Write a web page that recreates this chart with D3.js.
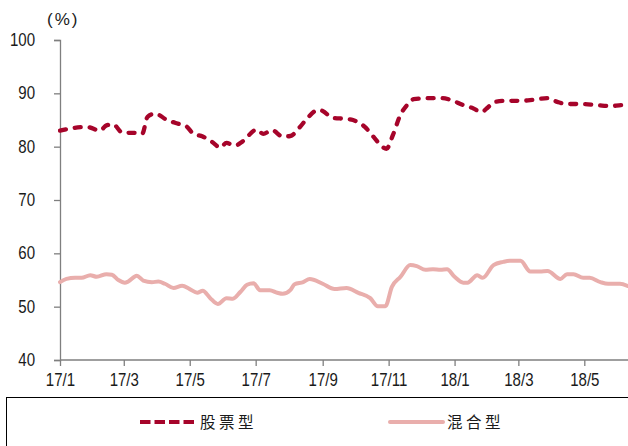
<!DOCTYPE html>
<html><head><meta charset="utf-8">
<script src="https://cdn.jsdelivr.net/npm/d3@7"></script>
<style>body{margin:0;background:#fff}svg{display:block}</style>
</head><body>
<svg id="c" width="628" height="446"></svg>
<script>
const seriesNames = ["股票型", "混合型"];
const stockDates = ["2017-01-01","2017-01-13","2017-01-26","2017-02-07","2017-02-13","2017-02-19","2017-02-28","2017-03-10","2017-03-18","2017-03-23","2017-03-30","2017-04-10","2017-04-22","2017-04-28","2017-05-04","2017-05-13","2017-05-23","2017-05-29","2017-06-04","2017-06-12","2017-06-19","2017-07-02","2017-07-08","2017-07-16","2017-07-26","2017-08-02","2017-08-11","2017-08-18","2017-08-28","2017-09-01","2017-09-10","2017-09-23","2017-09-29","2017-10-10","2017-10-19","2017-10-26","2017-10-30","2017-11-05","2017-11-12","2017-11-18","2017-11-24","2017-12-09","2017-12-21","2017-12-28","2018-01-09","2018-01-18","2018-01-26","2018-02-01","2018-02-07","2018-02-19","2018-03-03","2018-03-15","2018-03-28","2018-04-06","2018-04-15","2018-04-27","2018-05-13","2018-05-25","2018-06-05","2018-06-10"];
const stockValues = [83,83.5,83.7,83,84,84.2,82.6,82.6,82.4,85.6,86.2,85,84.2,83.8,82.5,81.9,80.7,79.8,80.7,80.2,81,83.2,82.4,83.1,81.9,82,83.7,85.4,86.9,86.7,85.4,85.2,85,83.7,81.6,80,79.6,82.2,86,87.8,88.9,89.1,89.1,88.8,87.8,87.2,86.5,87.4,88.4,88.6,88.6,88.8,89.1,88.4,88,88,87.8,87.6,87.8,87.5];
const mixedDates = ["2017-01-01","2017-01-07","2017-01-15","2017-01-21","2017-01-29","2017-02-04","2017-02-13","2017-02-18","2017-02-24","2017-03-02","2017-03-05","2017-03-13","2017-03-19","2017-03-27","2017-04-02","2017-04-08","2017-04-16","2017-04-24","2017-05-01","2017-05-08","2017-05-13","2017-05-20","2017-05-27","2017-06-04","2017-06-10","2017-06-17","2017-06-23","2017-06-29","2017-07-05","2017-07-14","2017-07-21","2017-07-26","2017-08-02","2017-08-06","2017-08-14","2017-08-20","2017-09-01","2017-09-12","2017-09-23","2017-10-04","2017-10-15","2017-10-22","2017-10-29","2017-11-04","2017-11-12","2017-11-21","2017-11-27","2017-12-05","2017-12-12","2017-12-19","2017-12-25","2018-01-01","2018-01-09","2018-01-13","2018-01-22","2018-01-27","2018-02-06","2018-02-15","2018-02-21","2018-03-03","2018-03-12","2018-03-21","2018-03-28","2018-04-09","2018-04-15","2018-04-21","2018-04-30","2018-05-06","2018-05-16","2018-05-23","2018-06-03","2018-06-10"];
const mixedValues = [54.6,55.2,55.4,55.4,55.9,55.6,56.1,56,55,54.5,54.7,55.8,54.9,54.6,54.7,54.3,53.5,53.9,53.3,52.6,53,51.6,50.5,51.6,51.5,52.8,54.1,54.4,53.1,53.1,52.6,52.4,53.1,54.2,54.6,55.2,54.3,53.3,53.5,52.6,51.6,50.1,50.1,53.7,55.6,57.8,57.6,56.9,57,56.9,57,55.6,54.5,54.5,55.9,55.4,57.8,58.4,58.6,58.6,56.6,56.6,56.7,55.2,56.1,56.1,55.4,55.4,54.6,54.3,54.3,53.9];
const xTickLabels = ["17/1","17/3","17/5","17/7","17/9","17/11","18/1","18/3","18/5"];
const yTicks = [40,50,60,70,80,90,100];
const yUnit = "(%)";

const parse = d3.timeParse("%Y-%m-%d");
const svg = d3.select("#c");
const x = d3.scaleTime().domain([parse("2017-01-01"), parse("2018-05-01")]).range([60, 584.3]);
const y = d3.scaleLinear().domain([40, 100]).range([360, 40]);

const font = "'Liberation Sans', Arial, sans-serif";
const sx = 0.86;

// y axis
const yAxis = svg.append("g").attr("transform", "translate(60,0)")
  .call(d3.axisLeft(y).tickValues(yTicks).tickSize(6));
yAxis.select(".domain").attr("stroke", "#7f7f7f").attr("stroke-width", 1.3);
yAxis.selectAll(".tick line").attr("stroke", "#7f7f7f").attr("stroke-width", 1.3);
yAxis.selectAll("text").attr("font-family", font).attr("font-size", 17.5).attr("fill", "#1a1a1a")
  .attr("transform", `scale(${sx},1)`).attr("x", -25 / sx);

// x axis
const xTickDates = xTickLabels.map(s => { const [yy, mm] = s.split("/"); return new Date(2000 + +yy, +mm - 1, 1); });
const xAxis = svg.append("g").attr("transform", "translate(0,360)")
  .call(d3.axisBottom(x).tickValues(xTickDates).tickFormat((d, i) => xTickLabels[i]).tickSize(6));
xAxis.select(".domain").attr("d", "M60,0H628").attr("stroke", "#7f7f7f").attr("stroke-width", 1.3);
xAxis.selectAll(".tick line").attr("stroke", "#7f7f7f").attr("stroke-width", 1.3);
xAxis.selectAll("text").attr("font-family", font).attr("font-size", 17.5).attr("fill", "#1a1a1a")
  .attr("transform", `scale(${sx},1)`).attr("y", 26).attr("dy", null);

svg.append("text").attr("x", 47).attr("y", 24.5).attr("font-family", font)
  .attr("font-size", 17).attr("letter-spacing", 2).attr("fill", "#1a1a1a").text(yUnit);

const line = d3.line().x(d => x(d[0])).y(d => y(d[1])).curve(d3.curveMonotoneX);
const stock = stockDates.map((d, i) => [parse(d), stockValues[i]]);
const mixed = mixedDates.map((d, i) => [parse(d), mixedValues[i]]);

svg.append("defs").append("clipPath").attr("id", "clip").append("rect")
  .attr("x", 58).attr("y", 0).attr("width", 580).attr("height", 360);

svg.append("path").datum(mixed).attr("d", line).attr("fill", "none")
  .attr("stroke", "#e9aeac").attr("stroke-width", 4).attr("stroke-linejoin", "round").attr("stroke-linecap", "round")
  .attr("clip-path", "url(#clip)");
svg.append("path").datum(stock).attr("d", line).attr("fill", "none")
  .attr("stroke", "#a6042a").attr("stroke-width", 4.3).attr("stroke-dasharray", "6,9").attr("stroke-linecap", "round")
  .attr("clip-path", "url(#clip)");

// legend
svg.append("rect").attr("x", 6.5).attr("y", 397.5).attr("width", 640).attr("height", 60)
  .attr("fill", "none").attr("stroke", "#000").attr("stroke-width", 1);
const lg = [
  {name: seriesNames[0], x1: 140, x2: 195, tx: 200, color: "#a6042a", dash: "10.5,4", cap: "butt"},
  {name: seriesNames[1], x1: 390, x2: 443, tx: 447, color: "#e9aeac", dash: null, cap: "round"}
];
lg.forEach(l => {
  svg.append("line").attr("x1", l.x1).attr("x2", l.x2).attr("y1", 422).attr("y2", 422)
    .attr("stroke", l.color).attr("stroke-width", 4).attr("stroke-dasharray", l.dash).attr("stroke-linecap", l.cap);
  svg.append("text").attr("x", l.tx).attr("y", 428).attr("font-family", "'Noto Sans CJK SC', sans-serif")
    .attr("font-size", 15.5).attr("letter-spacing", 3.5).attr("fill", "#1a1a1a").text(l.name);
});
</script>
</body></html>
